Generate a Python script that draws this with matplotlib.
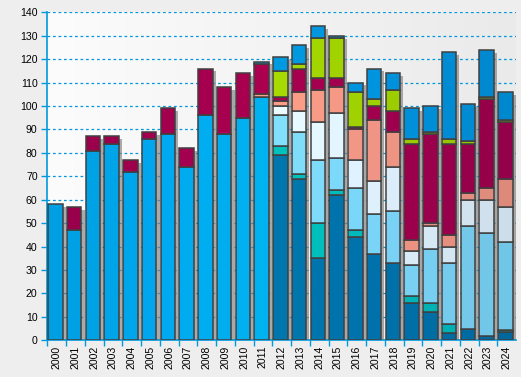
import numpy as np
import matplotlib.pyplot as plt
from matplotlib.colors import to_rgb, LinearSegmentedColormap

years = [str(y) for y in range(2000, 2025)]

# stacked segments, bottom to top
early   = [58, 47, 81, 84, 72, 86, 88, 74, 96, 88, 95, 104] + [0]*13
dark    = [0]*12 + [79, 69, 35, 62, 44, 37, 33, 16, 12, 3, 5, 2, 3.4]
teal    = [0]*12 + [4, 2, 15, 2, 3, 0, 0, 3, 4, 4, 0, 0, 0.9]
light   = [0]*12 + [13, 18, 27, 14, 18, 17, 22, 13, 23, 26, 44, 44, 37.7]
pale    = [0]*12 + [4, 9, 16, 19, 12, 14, 19, 6, 10, 7, 11, 14, 15]
salmon  = [0]*11 + [1] + [2, 8, 14, 11, 13, 26, 15, 5, 1, 5, 3, 5, 12]
crimson = [0, 10, 6, 3, 5, 3, 11, 8, 20, 20, 19, 13] + [2, 10, 5, 4, 1, 6, 9, 41, 38, 39, 21, 38, 24]
lime    = [0]*12 + [11, 2, 17, 17, 15, 3, 9, 2, 1, 2, 1, 1, 1]
topblue = [0]*11 + [1] + [6, 8, 5, 1, 4, 13, 7, 13, 11, 37, 16, 20, 12]

series = [early, dark, teal, light, pale, salmon, crimson, lime, topblue]
colors = ['#00b2f0', '#0078ac', '#00c4bc', '#82e2fa', '#ecffff',
          '#ff9f86', '#aa004f', '#a8dc00', '#009ce0']

BLUE = '#0099dd'

fig = plt.figure(figsize=(5.21, 3.77), dpi=100, facecolor='#eeeeee')
ax = fig.add_axes([0.0908, 0.0973, 0.8996, 0.8700])

n = len(years)
x = np.arange(n)

# background gradient
grad = np.linspace(0, 1, 256).reshape(1, -1)
ax.imshow(grad, extent=[-0.5, n - 0.5, 0, 140], aspect='auto', zorder=0,
          cmap=LinearSegmentedColormap.from_list('bg', ['#fcfcfc', '#eaeaea']))

for yv in range(10, 150, 10):
    ax.axhline(yv, color=BLUE, lw=0.9, ls=(0, (2.2, 2.2)), zorder=1)

# lighting: bars get darker away from the middle
def shade(c, i):
    f = 1 - 0.12 * abs(i - 11) / 12
    r, g, b = to_rgb(c)
    return (r * f, g * f, b * min(1, f + 0.05))

totals = np.sum(np.array(series, dtype=float), axis=0)
# drop shadow
ax.bar(x + 0.1, totals - 1.2, width=0.77, color='#808080', alpha=0.65, lw=0, zorder=2)

bottom = np.zeros(n)
for vals, c in zip(series, colors):
    vals = np.array(vals, dtype=float)
    for i in range(n):
        if vals[i] > 0:
            ax.bar(x[i] - 0.07, vals[i], width=0.77, bottom=bottom[i],
                   color=shade(c, i), edgecolor='#404040', lw=1.1, zorder=3)
    bottom += vals

ax.set_xlim(-0.5, n - 0.5)
ax.set_ylim(0, 140)
ax.set_yticks(range(0, 150, 10))
ax.set_xticks(x - 0.5, minor=False)
ax.set_xticklabels([])
ax.set_xticks(x, minor=True)
ax.set_xticklabels(years, minor=True, rotation=90, fontsize=7.6, family='Liberation Sans')
ax.tick_params(axis='x', which='minor', length=0, pad=4)
ax.tick_params(axis='x', which='major', length=4, color=BLUE, width=1)
ax.tick_params(axis='y', length=4, color=BLUE, width=1, labelsize=7.6, pad=3)
for lab in ax.get_yticklabels():
    lab.set_family('Liberation Sans')

for s in ['top', 'right']:
    ax.spines[s].set_visible(False)
for s in ['left', 'bottom']:
    ax.spines[s].set_color(BLUE)
    ax.spines[s].set_linewidth(1.2)

fig.savefig('out.png', dpi=100, facecolor=fig.get_facecolor())
